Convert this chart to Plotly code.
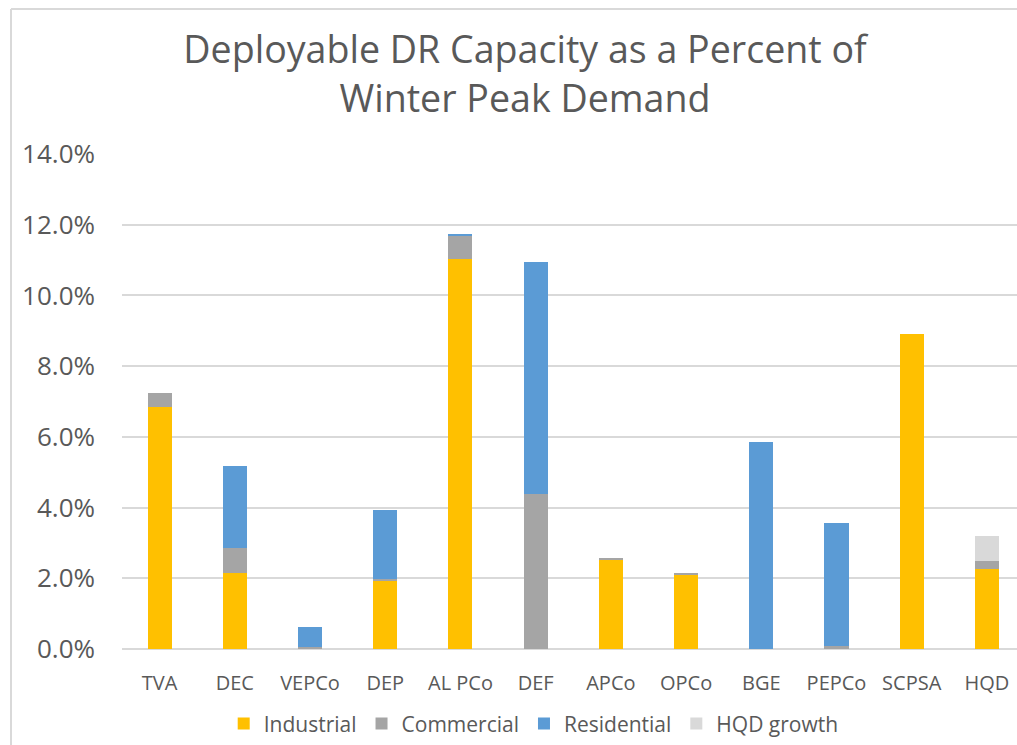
import plotly.graph_objects as go

utilities = ["TVA", "DEC", "VEPCo", "DEP", "AL PCo", "DEF",
             "APCo", "OPCo", "BGE", "PEPCo", "SCPSA", "HQD"]
industrial = [6.84, 2.14, 0.0, 1.92, 11.04, 0.0, 2.53, 2.10, 0.0, 0.0, 8.90, 2.25]
commercial = [0.39, 0.73, 0.05, 0.06, 0.66, 4.39, 0.03, 0.03, 0.0, 0.08, 0.0, 0.23]
residential = [0.0, 2.31, 0.56, 1.94, 0.02, 6.56, 0.0, 0.0, 5.85, 3.48, 0.0, 0.0]
hqd_growth = [0.0] * 11 + [0.72]

series = [
    ("Industrial", industrial, "#FFC000"),
    ("Commercial", commercial, "#A5A5A5"),
    ("Residential", residential, "#5B9BD5"),
    ("HQD growth", hqd_growth, "#D9D9D9"),
]

font_family = "'Open Sans', Lato, sans-serif"
text_color = "#595959"

fig = go.Figure()
for name, vals, color in series:
    fig.add_trace(
        go.Bar(
            x=utilities,
            y=[v / 100 for v in vals],
            name=name,
            marker=dict(color=color, line=dict(width=0)),
            width=0.32,
        )
    )

# outer chart border (left and top edges visible)
L, R, T, B = 122, 0, 154, 94
pw, ph = 1017 - L - R, 745 - T - B
bx = (11 - L) / pw
by = 1 + (T - 8.5) / ph
for x0, y0, x1, y1 in [(bx, -1, bx, by), (bx, by, 1.2, by)]:
    fig.add_shape(type="line", xref="paper", yref="paper",
                  x0=x0, y0=y0, x1=x1, y1=y1,
                  line=dict(color="#D9D9D9", width=2))

fig.update_layout(
    barmode="stack",
    width=1017,
    height=745,
    margin=dict(l=L, r=R, t=T, b=B),
    paper_bgcolor="white",
    plot_bgcolor="white",
    font=dict(family=font_family, color=text_color),
    title=dict(
        text="Deployable DR Capacity as a Percent of<br>Winter Peak Demand",
        x=525 / 1017, xref="container", xanchor="center",
        y=1 - 63 / 745, yref="container", yanchor="top",
        font=dict(size=37.6, color=text_color, family=font_family),
    ),
    xaxis=dict(
        range=[-0.5, 11.4],
        showgrid=False,
        showline=False,
        ticks="",
        ticklabelstandoff=20,
        tickfont=dict(size=20, color=text_color),
    ),
    yaxis=dict(
        range=[0, 0.14],
        dtick=0.02,
        tickformat=".1%",
        showgrid=True,
        gridcolor="#D9D9D9",
        gridwidth=1.5,
        zeroline=True,
        zerolinecolor="#D9D9D9",
        zerolinewidth=1.5,
        ticks="",
        ticklabelstandoff=26,
        tickfont=dict(size=26, color=text_color),
    ),
    legend=dict(
        orientation="h",
        x=0.46, xanchor="center",
        y=-0.11, yanchor="top",
        font=dict(size=21, color=text_color),
        traceorder="normal",
        itemwidth=30,
    ),
)

fig.write_html(
    "out.html",
    config={"displayModeBar": False},
    post_script="document.body.style.margin='0';",
)
